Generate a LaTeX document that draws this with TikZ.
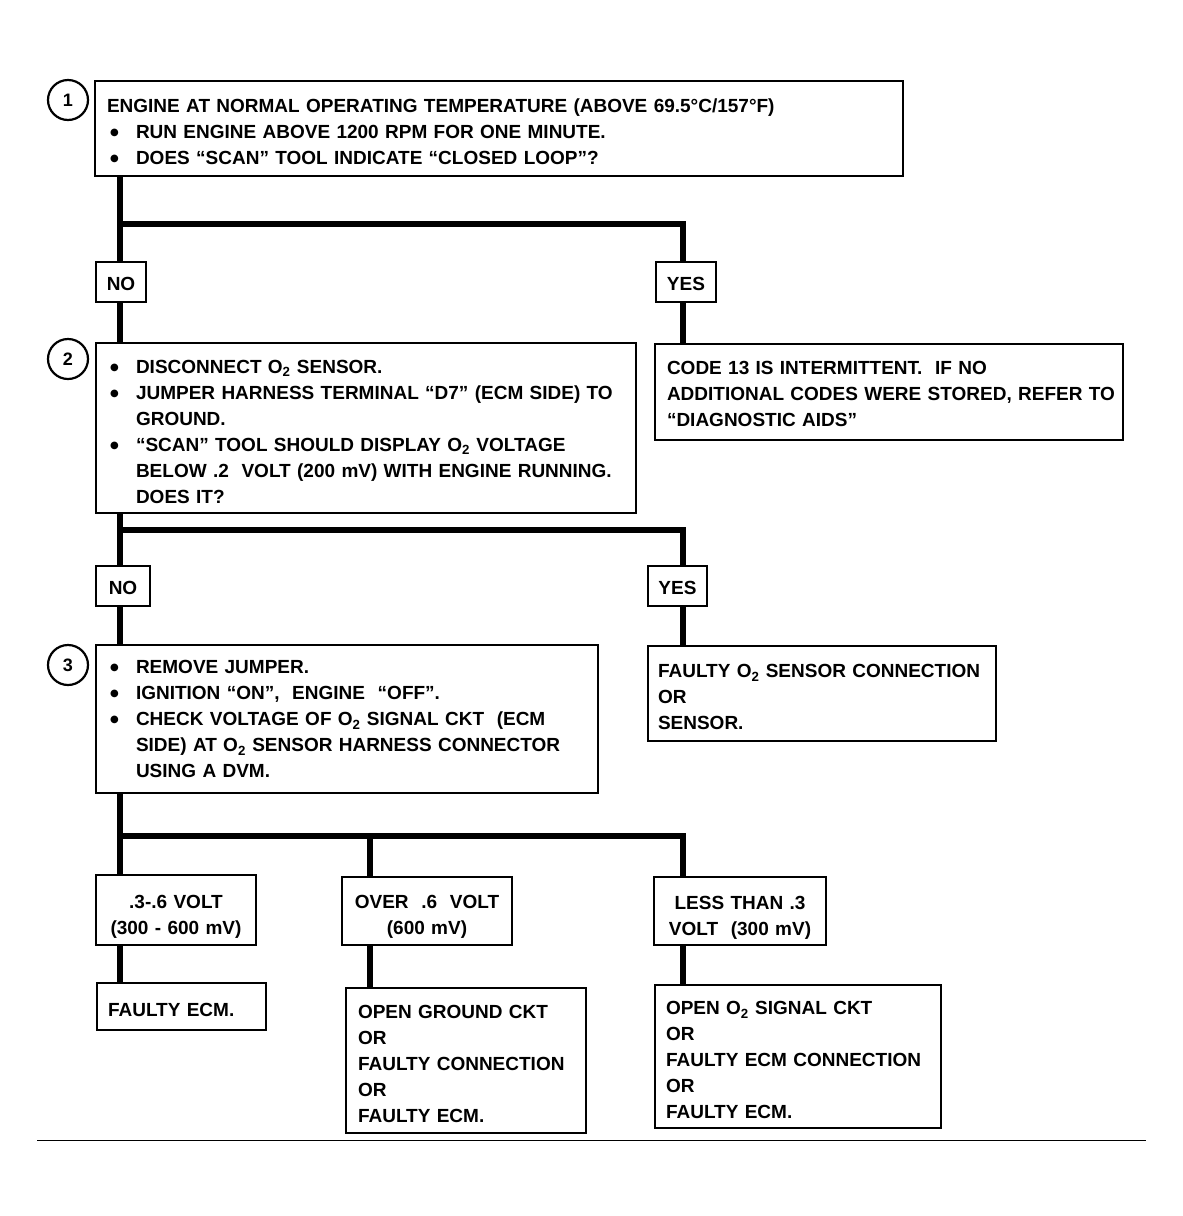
\documentclass[tikz,border=0pt]{standalone}
\usepackage{fontspec}
\setmainfont{Liberation Sans}
\newfontfamily\dejavu{DejaVu Sans}
\newcommand{\bul}{\makebox[26pt][l]{\raisebox{3pt}{\dejavu\fontsize{10}{10}\selectfont ●}}}
\newcommand{\ind}{\hspace*{26pt}}
\newcommand{\Otwo}{O\textsubscript{2}}
\begin{document}
\begin{tikzpicture}[x=1pt,y=-1pt,
  box/.style={draw, rectangle, line width=2pt, inner ysep=0pt, fill=white,
    font=\fontsize{19}{26}\selectfont\bfseries},
  lbox/.style={box, align=left, execute at begin node={\rule{0pt}{#1}}},
  lbox/.default=21pt,
  cbox/.style={box, align=center, inner xsep=0pt, execute at begin node={\rule{0pt}{#1}}},
  cbox/.default=18pt,
  circ/.style={draw, circle, line width=2.2pt, minimum size=40pt, inner sep=0pt,
    font=\fontsize{18}{18}\selectfont\bfseries},
  conn/.style={line width=6pt, line join=miter},
  rule/.style={line width=1pt}]
\useasboundingbox (0,0) rectangle (1183,1216);

% numbered circles
\node[circ] (c1) at (68,100) {1};
\node[circ] (c2) at (68,359) {2};
\node[circ] (c3) at (68,665) {3};

% step 1
\node[lbox, minimum width=808, minimum height=95, text width=784, inner xsep=12pt] (b1) at (499,128.5)
 {\mbox{ENGINE AT NORMAL OPERATING TEMPERATURE (ABOVE 69.5°C/157°F)}\\
  \mbox{\hspace*{3pt}\bul RUN ENGINE ABOVE 1200 RPM FOR ONE MINUTE.}\\
  \mbox{\hspace*{3pt}\bul DOES ``SCAN'' TOOL INDICATE ``CLOSED LOOP''?}};

\node[cbox, minimum width=50, minimum height=40] (no1) at (121,282) {NO};
\node[cbox, minimum width=60, minimum height=40] (yes1) at (686,282) {YES};

% step 2
\node[lbox, minimum width=540, minimum height=170, text width=512, inner xsep=14pt] (b2) at (366,428)
 {\mbox{\bul DISCONNECT \Otwo{} SENSOR.}\\
  \mbox{\bul JUMPER HARNESS TERMINAL ``D7'' (ECM SIDE) TO}\\
  \mbox{\ind GROUND.}\\
  \mbox{\bul ``SCAN'' TOOL SHOULD DISPLAY \Otwo{} VOLTAGE}\\
  \mbox{\ind BELOW .2\ \ VOLT (200 mV) WITH ENGINE RUNNING.}\\
  \mbox{\ind DOES IT?}};

\node[lbox=17pt, minimum width=468, minimum height=96, text width=444, inner xsep=12pt] (code) at (889,392)
 {\mbox{CODE 13 IS INTERMITTENT.\ \ IF NO}\\
  \mbox{ADDITIONAL CODES WERE STORED, REFER TO}\\
  \mbox{``DIAGNOSTIC AIDS''}};

\node[cbox, minimum width=54, minimum height=40] (no2) at (123,586) {NO};
\node[cbox, minimum width=59, minimum height=40] (yes2) at (677.5,586) {YES};

% step 3
\node[lbox=14pt, minimum width=502, minimum height=148, text width=474, inner xsep=14pt] (b3) at (347,719)
 {\mbox{\bul REMOVE JUMPER.}\\
  \mbox{\bul IGNITION ``ON'',\ \ ENGINE\ \ ``OFF''.}\\
  \mbox{\bul CHECK VOLTAGE OF \Otwo{} SIGNAL CKT\ \ (ECM}\\
  \mbox{\ind SIDE) AT \Otwo{} SENSOR HARNESS CONNECTOR}\\
  \mbox{\ind USING A DVM.}};

\node[lbox, minimum width=348, minimum height=95, text width=328, inner xsep=10pt] (sens) at (822,693.5)
 {\mbox{FAULTY \Otwo{} SENSOR CONNECTION}\\
  OR\\
  SENSOR.};

% voltage ranges
\node[cbox=26pt, minimum width=160, minimum height=70, text width=160] (va) at (176,910)
 {.3-.6 VOLT\\(300 - 600 mV)};
\node[cbox=25pt, minimum width=170, minimum height=68, text width=170] (vb) at (427,911)
 {OVER\ \ .6\ \ VOLT\\(600 mV)};
\node[cbox=26pt, minimum width=172, minimum height=68, text width=172] (vc) at (740,911)
 {LESS THAN .3\\VOLT\ \ (300 mV)};

% results
\node[lbox, minimum width=169, minimum height=47, text width=147, inner xsep=11pt] (ra) at (181.5,1006.5)
 {FAULTY ECM.};
\node[lbox, minimum width=240, minimum height=145, text width=216, inner xsep=12pt] (rb) at (466,1060.5)
 {\mbox{OPEN GROUND CKT}\\OR\\\mbox{FAULTY CONNECTION}\\OR\\FAULTY ECM.};
\node[lbox, minimum width=286, minimum height=143, text width=264, inner xsep=11pt] (rc) at (798,1056.5)
 {\mbox{OPEN \Otwo{} SIGNAL CKT}\\OR\\\mbox{FAULTY ECM CONNECTION}\\OR\\FAULTY ECM.};

% connector columns and junction rows
\coordinate (xa) at (120,0);
\coordinate (xb) at (370,0);
\coordinate (xc) at (683,0);
\coordinate (j1) at (0,224);
\coordinate (j2) at (0,530);
\coordinate (j3) at (0,836);

\draw[conn] (b1.south -| xa) -- (no1.north -| xa);
\draw[conn] (j1 -| xa) -- (j1 -| xc) -- (yes1.north -| xc);
\draw[conn] (no1.south -| xa) -- (b2.north -| xa);
\draw[conn] (yes1.south -| xc) -- (code.north -| xc);
\draw[conn] (b2.south -| xa) -- (no2.north -| xa);
\draw[conn] (j2 -| xa) -- (j2 -| xc) -- (yes2.north -| xc);
\draw[conn] (no2.south -| xa) -- (b3.north -| xa);
\draw[conn] (yes2.south -| xc) -- (sens.north -| xc);
\draw[conn] (b3.south -| xa) -- (va.north -| xa);
\draw[conn] (j3 -| xa) -- (j3 -| xc) -- (vc.north -| xc);
\draw[conn] (j3 -| xb) -- (vb.north -| xb);
\draw[conn] (va.south -| xa) -- (ra.north -| xa);
\draw[conn] (vb.south -| xb) -- (rb.north -| xb);
\draw[conn] (vc.south -| xc) -- (rc.north -| xc);

% bottom rule
\coordinate (rl) at (37,1140);
\coordinate (rr) at (1146,1140);
\draw[rule] (rl) -- (rr);
\end{tikzpicture}
\end{document}
